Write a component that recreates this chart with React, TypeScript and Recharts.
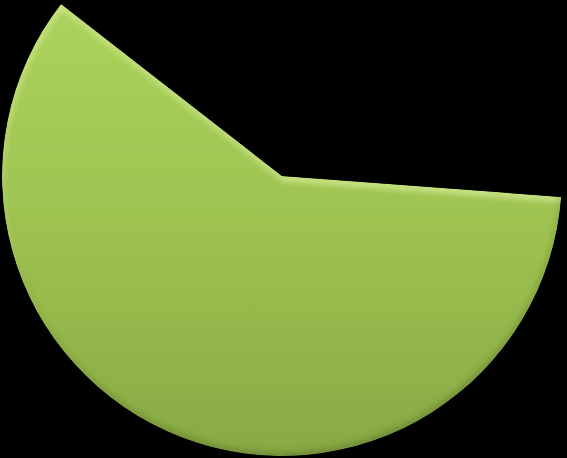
import React from "react";
import { PieChart, Pie, Cell } from "recharts";

const categories = ["Shown", "Rest"];
const values = [59.34, 40.66];
const colors = ["url(#pieGreen)", "transparent"];

const data = categories.map((name, i) => ({ name, value: values[i] }));

export default function App() {
  return (
    <div style={{ position: "fixed", left: 0, top: 0, width: 567, height: 458, background: "#000" }}>
      <PieChart width={567} height={458} margin={{ top: 0, right: 0, bottom: 0, left: 0 }}>
        <defs>
          <linearGradient id="pieGreen" x1="0" y1="0" x2="0" y2="1">
            <stop offset="0%" stopColor="#abd35c" />
            <stop offset="50%" stopColor="#9dc250" />
            <stop offset="100%" stopColor="#88a945" />
          </linearGradient>
          <filter id="bevel" x="-5%" y="-5%" width="110%" height="110%">
            <feGaussianBlur in="SourceAlpha" stdDeviation="3" result="blur" />
            <feOffset in="blur" dx="1" dy="5" result="offDown" />
            <feComposite in="SourceAlpha" in2="offDown" operator="out" result="topEdge" />
            <feFlood floodColor="#d8f094" floodOpacity="0.7" result="lightC" />
            <feComposite in="lightC" in2="topEdge" operator="in" result="hl" />
            <feOffset in="blur" dx="-1" dy="-4" result="offUp" />
            <feComposite in="SourceAlpha" in2="offUp" operator="out" result="botEdge" />
            <feFlood floodColor="#3e5418" floodOpacity="0.45" result="darkC" />
            <feComposite in="darkC" in2="botEdge" operator="in" result="sh" />
            <feMerge result="merged">
              <feMergeNode in="SourceGraphic" />
              <feMergeNode in="hl" />
              <feMergeNode in="sh" />
            </feMerge>
            <feComposite in="merged" in2="SourceAlpha" operator="in" />
          </filter>
        </defs>
        <Pie
          data={data}
          dataKey="value"
          nameKey="name"
          cx={282}
          cy={176}
          innerRadius={0}
          outerRadius={280}
          startAngle={142.1}
          endAngle={502.1}
          stroke="none"
          isAnimationActive={false}
          label={false}
          labelLine={false}
        >
          {data.map((d, i) => (
            <Cell key={d.name} fill={colors[i]} stroke="none" filter={i === 0 ? "url(#bevel)" : undefined} />
          ))}
        </Pie>
      </PieChart>
    </div>
  );
}
